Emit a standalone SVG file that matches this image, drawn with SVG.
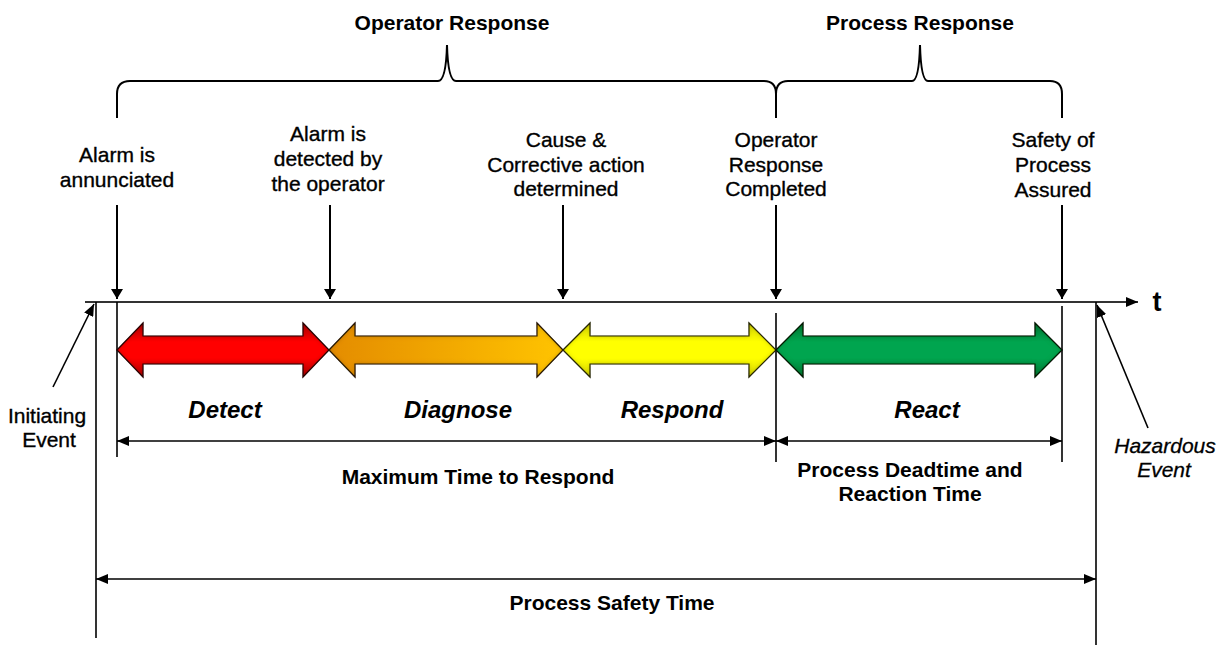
<svg xmlns="http://www.w3.org/2000/svg" width="1226" height="648" viewBox="0 0 1226 648">
<style>
text{font-family:"Liberation Sans",Arial,sans-serif;fill:#000;text-anchor:middle}
.lbl{font-size:21px;stroke:#000;stroke-width:0.35}
.b{font-size:21px;font-weight:bold}
.bi{font-size:24px;font-weight:bold;font-style:italic}
.it{font-size:21px;font-style:italic;stroke:#000;stroke-width:0.3}
.ln{stroke:#000;stroke-width:2;fill:none}
.thin{stroke:#000;stroke-width:1.6;fill:none}
</style>
<defs>
<marker id="ah" viewBox="0 0 12 10" refX="12" refY="5" markerWidth="12" markerHeight="10" markerUnits="userSpaceOnUse" orient="auto-start-reverse">
<path d="M0,0 L12,5 L0,10 Z" fill="#000"/>
</marker>
<marker id="dh" viewBox="0 0 10 12" refX="10" refY="6" markerWidth="10" markerHeight="12" markerUnits="userSpaceOnUse" orient="auto-start-reverse">
<path d="M0,0 L10,6 L0,12 Z" fill="#000"/>
</marker>
<linearGradient id="gRed" x1="0" y1="0" x2="0" y2="1"><stop offset="0" stop-color="#b00000"/><stop offset="0.35" stop-color="#ff0000"/><stop offset="0.65" stop-color="#ff0000"/><stop offset="1" stop-color="#b00000"/></linearGradient>
<linearGradient id="gOra" x1="0" y1="0" x2="1" y2="0"><stop offset="0" stop-color="#e48c00"/><stop offset="1" stop-color="#ffc400"/></linearGradient>
<linearGradient id="gYel" x1="0" y1="0" x2="0" y2="1"><stop offset="0" stop-color="#d8d800"/><stop offset="0.35" stop-color="#ffff00"/><stop offset="0.65" stop-color="#ffff00"/><stop offset="1" stop-color="#d8d800"/></linearGradient>
<linearGradient id="gGrn" x1="0" y1="0" x2="0" y2="1"><stop offset="0" stop-color="#007a35"/><stop offset="0.35" stop-color="#00a550"/><stop offset="0.65" stop-color="#00a550"/><stop offset="1" stop-color="#007a35"/></linearGradient>
<filter id="ig" x="-5%" y="-20%" width="110%" height="140%">
<feFlood flood-color="#000" flood-opacity="0.6" result="f"/>
<feComposite in="f" in2="SourceAlpha" operator="out" result="o"/>
<feGaussianBlur in="o" stdDeviation="2.5" result="bl"/>
<feComposite in="bl" in2="SourceAlpha" operator="in" result="s"/>
<feMerge><feMergeNode in="SourceGraphic"/><feMergeNode in="s"/></feMerge>
</filter>
</defs>

<g id="titles">
<text class="b" x="452" y="30">Operator Response</text>
<text class="b" x="920" y="30">Process Response</text>
</g>

<g id="braces">
<path class="ln" d="M117,118 L117,94 Q117,81 130,81 L438,81 Q446,81 447,45 Q448,81 456,81 L764,81 Q776,81 776,94 L776,118"/>
<path class="ln" d="M776,118 L776,94 Q776,81 788,81 L912,81 Q919,81 920,45 Q921,81 928,81 L1050,81 Q1062,81 1062,94 L1062,118"/>
</g>

<g id="milestone-labels">
<text class="lbl" x="117" y="162">Alarm is</text>
<text class="lbl" x="117" y="187">annunciated</text>
<text class="lbl" x="328" y="141">Alarm is</text>
<text class="lbl" x="328" y="166">detected by</text>
<text class="lbl" x="328" y="191">the operator</text>
<text class="lbl" x="566" y="147">Cause &amp;</text>
<text class="lbl" x="566" y="172">Corrective action</text>
<text class="lbl" x="566" y="196">determined</text>
<text class="lbl" x="776" y="147">Operator</text>
<text class="lbl" x="776" y="172">Response</text>
<text class="lbl" x="776" y="196">Completed</text>
<text class="lbl" x="1053" y="147">Safety of</text>
<text class="lbl" x="1053" y="172">Process</text>
<text class="lbl" x="1053" y="197">Assured</text>
</g>

<g id="connectors">
<line class="ln" x1="117" y1="205" x2="117" y2="299" marker-end="url(#dh)"/>
<line class="ln" x1="330" y1="205" x2="330" y2="299" marker-end="url(#dh)"/>
<line class="ln" x1="563" y1="205" x2="563" y2="299" marker-end="url(#dh)"/>
<line class="ln" x1="776" y1="205" x2="776" y2="299" marker-end="url(#dh)"/>
<line class="ln" x1="1062" y1="205" x2="1062" y2="299" marker-end="url(#dh)"/>
<line x1="85" y1="302" x2="1138" y2="302" stroke="#333" stroke-width="2" marker-end="url(#ah)"/>
<line class="thin" x1="96" y1="302" x2="96" y2="638"/>
<line class="thin" x1="117" y1="302" x2="117" y2="457"/>
<line class="thin" x1="776" y1="313" x2="776" y2="462"/>
<line class="thin" x1="1062" y1="306" x2="1062" y2="462"/>
<line class="thin" x1="1096" y1="302" x2="1096" y2="645"/>
<line class="thin" x1="53" y1="387" x2="94" y2="304" marker-end="url(#ah)"/>
<line class="thin" x1="1148" y1="428" x2="1097" y2="305" marker-end="url(#ah)"/>
<line class="thin" x1="117" y1="441" x2="776" y2="441" marker-start="url(#ah)" marker-end="url(#ah)"/>
<line class="thin" x1="776" y1="441" x2="1062" y2="441" marker-start="url(#ah)" marker-end="url(#ah)"/>
<line class="thin" x1="96" y1="579" x2="1096" y2="579" marker-start="url(#ah)" marker-end="url(#ah)"/>
</g>

<g id="detect">
<polygon filter="url(#ig)" fill="url(#gRed)" stroke="#300" stroke-width="1.2" points="117,350 143,323 143,336 303,336 303,323 329,350 303,377 303,364 143,364 143,377"/>
<text class="bi" x="225" y="418">Detect</text>
</g>
<g id="diagnose">
<polygon filter="url(#ig)" fill="url(#gOra)" stroke="#320" stroke-width="1.2" points="329,350 355,323 355,336 537,336 537,323 563,350 537,377 537,364 355,364 355,377"/>
<text class="bi" x="458" y="418">Diagnose</text>
</g>
<g id="respond">
<polygon filter="url(#ig)" fill="url(#gYel)" stroke="#330" stroke-width="1.2" points="563,350 590,323 590,336 749,336 749,323 776,350 749,377 749,364 590,364 590,377"/>
<text class="bi" x="672" y="418">Respond</text>
</g>
<g id="react">
<polygon filter="url(#ig)" fill="url(#gGrn)" stroke="#020" stroke-width="1.2" points="776,350 803,323 803,336 1035,336 1035,323 1062,350 1035,377 1035,364 803,364 803,377"/>
<text class="bi" x="927" y="418">React</text>
</g>

<g id="t-axis"><text x="1157" y="311" style="font-size:27px;font-weight:bold">t</text></g>

<g id="initiating-event">
<text class="lbl" x="47" y="423">Initiating</text>
<text class="lbl" x="49" y="447">Event</text>
</g>
<g id="hazardous-event">
<text class="it" x="1165" y="453">Hazardous</text>
<text class="it" x="1164" y="477">Event</text>
</g>

<g id="dimension-labels">
<text class="b" x="478" y="484">Maximum Time to Respond</text>
<text class="b" x="910" y="477">Process Deadtime and</text>
<text class="b" x="910" y="501">Reaction Time</text>
<text class="b" x="612" y="610">Process Safety Time</text>
</g>
</svg>
